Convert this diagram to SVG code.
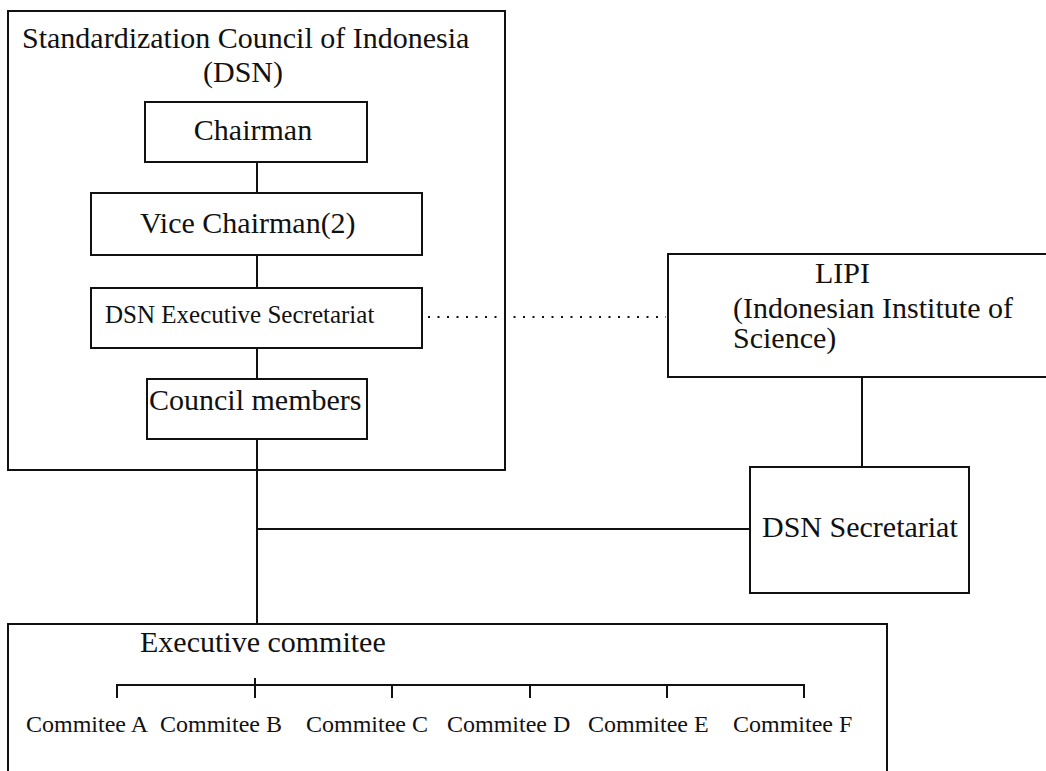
<svg xmlns="http://www.w3.org/2000/svg" width="1046" height="771" viewBox="0 0 1046 771">
<style>
.box{fill:none;stroke:#111;stroke-width:2}
.ln{fill:none;stroke:#111;stroke-width:2}
.dot{fill:none;stroke:#111;stroke-width:2;stroke-dasharray:2 7.5}
text{font-family:"Liberation Serif","Times New Roman",serif;fill:#111;font-size:30px}
.s25{font-size:25px}
.s24{font-size:24px}
.m{text-anchor:middle}
</style>
<rect width="1046" height="771" fill="#fff"/>
<g id="connectors">
<line class="ln" x1="257" y1="162" x2="257" y2="193"/>
<line class="ln" x1="257" y1="255" x2="257" y2="288"/>
<line class="ln" x1="257" y1="348" x2="257" y2="379"/>
<line class="ln" x1="257" y1="439" x2="257" y2="624"/>
<line class="ln" x1="257" y1="529" x2="750" y2="529"/>
<line class="ln" x1="862" y1="377" x2="862" y2="467"/>
<line class="dot" x1="428" y1="317" x2="666" y2="317"/>
</g>
<g id="dsn">
<rect class="box" x="8" y="11" width="497" height="459"/>
<text x="22" y="48">Standardization Council of Indonesia</text>
<text class="m" x="243" y="82">(DSN)</text>
</g>
<g id="chairman">
<rect class="box" x="145" y="102" width="222" height="60"/>
<text class="m" x="253" y="140">Chairman</text>
</g>
<g id="vice-chairman">
<rect class="box" x="91" y="193" width="331" height="62"/>
<text x="140" y="233">Vice Chairman(2)</text>
</g>
<g id="exec-secretariat">
<rect class="box" x="91" y="288" width="331" height="60"/>
<text class="s25" x="105" y="323">DSN Executive Secretariat</text>
</g>
<g id="council-members">
<rect class="box" x="147" y="379" width="220" height="60"/>
<text x="149" y="410">Council members</text>
</g>
<g id="lipi">
<rect class="box" x="668" y="254" width="390" height="123"/>
<text x="815" y="283">LIPI</text>
<text x="733" y="318">(Indonesian Institute of</text>
<text x="733" y="348">Science)</text>
</g>
<g id="dsn-secretariat">
<rect class="box" x="750" y="467" width="219" height="126"/>
<text x="762" y="537">DSN Secretariat</text>
</g>
<g id="executive-committee">
<rect class="box" x="8" y="624" width="879" height="160"/>
<text x="140" y="652">Executive commitee</text>
<path class="ln" d="M117 698 V685 H804 V698 M255 678 V698 M392 685 V698 M530 685 V698 M667 685 V698"/>
<text class="s24" x="26" y="732">Commitee A</text>
<text class="s24" x="160" y="732">Commitee B</text>
<text class="s24" x="306" y="732">Commitee C</text>
<text class="s24" x="447" y="732">Commitee D</text>
<text class="s24" x="588" y="732">Commitee E</text>
<text class="s24" x="733" y="732">Commitee F</text>
</g>
</svg>
